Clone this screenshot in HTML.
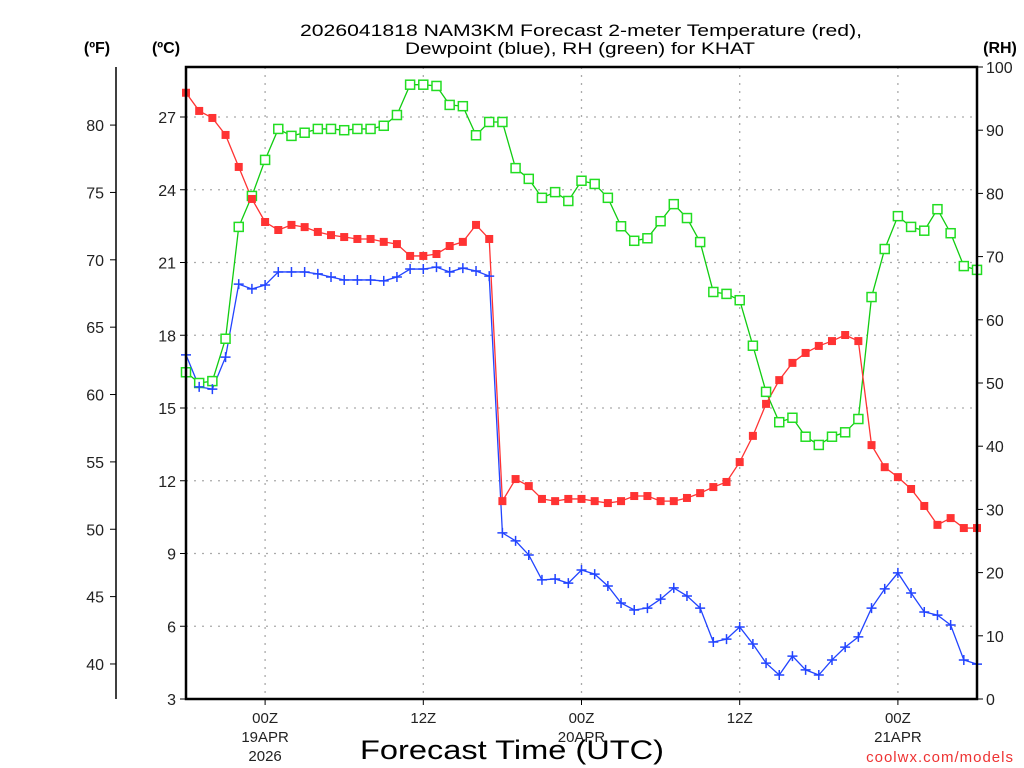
<!DOCTYPE html>
<html><head><meta charset="utf-8"><style>
html,body{margin:0;padding:0;background:#fff;}
svg{display:block;font-family:"Liberation Sans","DejaVu Sans",sans-serif;}
</style></head><body>
<svg id="chart" width="1024" height="768" viewBox="0 0 1024 768" xmlns="http://www.w3.org/2000/svg">
<rect width="1024" height="768" fill="#fff"/>
<g id="title" font-size="17" fill="#000" text-anchor="middle">
<text x="581" y="36" textLength="562" lengthAdjust="spacingAndGlyphs">2026041818 NAM3KM Forecast 2-meter Temperature (red),</text>
<text x="580" y="54" textLength="350" lengthAdjust="spacingAndGlyphs">Dewpoint (blue), RH (green) for KHAT</text>
</g>
<text x="97" y="53" font-size="16" font-weight="bold" text-anchor="middle">(ºF)</text>
<text x="166" y="53" font-size="16" font-weight="bold" text-anchor="middle">(ºC)</text>
<text x="1000" y="53" font-size="16" font-weight="bold" text-anchor="middle">(RH)</text>
<g id="grid"></g>
<g id="axes"></g>
<g id="series"></g>
<rect x="186" y="67" width="791" height="632" fill="none" stroke="#000" stroke-width="2.5"/>
<text x="512" y="759" font-size="27" text-anchor="middle" textLength="304" lengthAdjust="spacingAndGlyphs">Forecast Time (UTC)</text>
<text x="1014" y="762" font-size="15" fill="#e33" text-anchor="end" letter-spacing="1">coolwx.com/models</text>
</svg>
<script>
const temps = [28.0,27.25,26.96,26.26,24.94,23.62,22.67,22.34,22.55,22.46,22.26,22.13,22.05,21.97,21.97,21.85,21.76,21.27,21.27,21.35,21.68,21.85,22.55,21.97,11.16,12.07,11.78,11.25,11.16,11.25,11.25,11.16,11.08,11.16,11.37,11.37,11.16,11.16,11.29,11.49,11.74,11.95,12.77,13.85,15.17,16.15,16.86,17.27,17.56,17.76,18.01,17.76,13.47,12.56,12.15,11.66,10.96,10.18,10.46,10.05,10.05];
const dewpoints = [17.19,15.87,15.78,17.10,20.11,19.91,20.07,20.61,20.61,20.61,20.53,20.40,20.28,20.28,20.28,20.24,20.40,20.73,20.73,20.81,20.61,20.77,20.65,20.44,9.85,9.52,8.94,7.91,7.95,7.78,8.32,8.15,7.66,6.96,6.67,6.75,7.12,7.58,7.25,6.75,5.35,5.47,5.97,5.27,4.48,3.99,4.77,4.20,3.99,4.61,5.14,5.56,6.75,7.54,8.20,7.37,6.59,6.46,6.05,4.61,4.44];
const rhValues = [51.7,50.0,50.3,57.0,74.7,79.6,85.3,90.2,89.1,89.6,90.2,90.2,90.0,90.2,90.2,90.7,92.4,97.2,97.2,97.0,94.0,93.8,89.2,91.3,91.3,84.0,82.3,79.3,80.2,78.8,82.0,81.5,79.3,74.8,72.5,72.9,75.6,78.3,76.1,72.3,64.4,64.1,63.1,55.9,48.6,43.8,44.5,41.5,40.2,41.5,42.2,44.3,63.6,71.2,76.4,74.7,74.1,77.5,73.7,68.5,67.9];
const celsiusTicks = [3,6,9,12,15,18,21,24,27];
const fahrenheitTicks = [40,45,50,55,60,65,70,75,80];
const rhTicks = [0,10,20,30,40,50,60,70,80,90,100];
const xTickHours = [6,18,30,42,54];
const xTickLabels = [["00Z","19APR","2026"],["12Z"],["00Z","20APR"],["12Z"],["00Z","21APR"]];

const NS="http://www.w3.org/2000/svg";
const X0=186,X1=977,Y0=67,Y1=699,HOURS=60;
const xs=h=>X0+(X1-X0)*h/HOURS;
const yC=c=>Y1-(c-3)*24.25;
const yF=f=>yC((f-32)*5/9);
const yRH=r=>Y1-(Y1-Y0)*r/100;
function mk(tag,attrs,parent){const e=document.createElementNS(NS,tag);for(const k in attrs)e.setAttribute(k,attrs[k]);parent.appendChild(e);return e;}
const grid=document.getElementById('grid'),axes=document.getElementById('axes'),ser=document.getElementById('series');

celsiusTicks.forEach(c=>{const y=yC(c);
 const g=mk('line',{x1:X0,x2:X1,y1:y,y2:y,stroke:'#aaa','stroke-width':1.3,'stroke-dasharray':'2 6'},grid);
 
 
 mk('line',{x1:180,x2:X0,y1:y,y2:y,stroke:'#000','stroke-width':1},axes);
 const t=mk('text',{x:176,y:y+6,'font-size':16,'text-anchor':'end',fill:'#222'},axes);t.textContent=c;
 
 
});
xTickHours.forEach((h,i)=>{const x=xs(h);
 const g=mk('line',{x1:x,x2:x,y1:Y0,y2:Y1,stroke:'#aaa','stroke-width':1.3,'stroke-dasharray':'2 6'},grid);
 
 
 mk('line',{x1:x,x2:x,y1:Y1,y2:Y1+6,stroke:'#000','stroke-width':1},axes);
 xTickLabels[i].forEach((s,j)=>{const t=mk('text',{x:x,y:723+j*19,'font-size':15,'text-anchor':'middle',fill:'#222'},axes);t.textContent=s;
  
  });
});
mk('line',{x1:116,x2:116,y1:Y0,y2:Y1,stroke:'#000','stroke-width':1.5},axes);
fahrenheitTicks.forEach(f=>{const y=yF(f);
 mk('line',{x1:110,x2:116,y1:y,y2:y,stroke:'#000','stroke-width':1},axes);
 const t=mk('text',{x:104,y:y+6,'font-size':16,'text-anchor':'end',fill:'#222'},axes);t.textContent=f;
 
 
});
rhTicks.forEach(r=>{const y=yRH(r);
 mk('line',{x1:X1,x2:X1+6,y1:y,y2:y,stroke:'#000','stroke-width':1},axes);
 const t=mk('text',{x:986,y:y+6,'font-size':16,fill:'#222'},axes);t.textContent=r;
 
 
});
function line(vals,yf,color,name){
 const pts=vals.map((v,i)=>xs(i)+','+yf(v)).join(' ');
 const p=mk('polyline',{points:pts,fill:'none',stroke:color,'stroke-width':1.3},ser);
 
 
}
line(rhValues,yRH,'#1c1','rh-line');
line(dewpoints,yC,'#2244ff','dewpoint-line');
line(temps,yC,'#f33','temperature-line');
rhValues.forEach((v,i)=>{const m=mk('rect',{x:xs(i)-4.5,y:yRH(v)-4.5,width:9,height:9,fill:'#fff',stroke:'#2d2','stroke-width':1.5},ser);
 
 });
dewpoints.forEach((v,i)=>{const x=xs(i),y=yC(v);const m=mk('path',{d:`M${x-5},${y}H${x+5}M${x},${y-5}V${y+5}`,stroke:'#2244ff','stroke-width':1.5},ser);
 
 });
temps.forEach((v,i)=>{const m=mk('rect',{x:xs(i)-4,y:yC(v)-4,width:8,height:8,fill:'#f33'},ser);
 
 });
</script>
</body></html>
